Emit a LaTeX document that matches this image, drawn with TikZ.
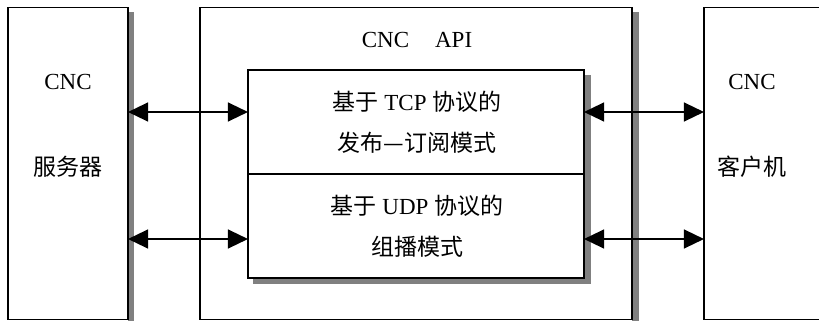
\documentclass[tikz,border=0pt]{standalone}
\usepackage{fontspec}
\setmainfont{Liberation Serif}
\newfontfamily\cjk{Noto Sans CJK SC}
\usetikzlibrary{arrows.meta}
\tikzset{
  box/.style={draw=black, line width=1.3pt, fill=white, inner sep=0pt},
  shade/.style={fill=black!50, draw=none},
  lbl/.style={font=\fontsize{23}{27}\selectfont, inner sep=0pt, anchor=center},
  two/.style={font=\fontsize{23}{41}\selectfont, align=center, inner sep=0pt},
  arr/.style={line width=1.3pt, {Triangle[length=20pt,width=19pt]}-{Triangle[length=20pt,width=19pt]}, shorten <=-0.6pt, shorten >=-0.6pt}
}
\begin{document}
\begin{tikzpicture}[x=1pt,y=-1pt]
\useasboundingbox (0,0) rectangle (819,321);
\clip (0,0) rectangle (819,321);
\fill[white] (0,0) rectangle (819,321);
% shadows
\fill[shade] (128,12.5) rectangle (134,330);
\fill[shade] (632,12.5) rectangle (638.5,330);
% left box
\node[box, minimum width=120pt, minimum height=312pt] (srv) at (68,163.75) {};
\node[lbl] (srvA) at (68,82) {CNC};
\node[lbl] (srvB) at (68,167) {\cjk 服务器};
% middle box
\node[box, minimum width=432pt, minimum height=312pt] (api) at (416,163.75) {};
\node[lbl] (apiT) at (417,40) {CNC\hspace{26pt}API};
% inner box shadow
\fill[shade] (253,75) rectangle (590.5,283.5);
\node[box, minimum width=336pt, minimum height=104pt] (tcp) at (416,122) {};
\node[box, minimum width=336pt, minimum height=104pt] (udp) at (416,226) {};
\node[two] (tcpT) at (417,122) {{\cjk 基于} TCP {\cjk 协议的}\\{\cjk 发布—订阅模式}};
\node[two] (udpT) at (417,226) {{\cjk 基于} UDP {\cjk 协议的}\\{\cjk 组播模式}};
% right box
\node[box, minimum width=140pt, minimum height=312pt] (cli) at (774,163.75) {};
\node[lbl] (cliA) at (752,82) {CNC};
\node[lbl] (cliB) at (752,167) {\cjk 客户机};
% arrows
\coordinate (yA) at (0,112);
\coordinate (yB) at (0,239);
\draw[arr] (srv.east |- yA) -- (tcp.west |- yA);
\draw[arr] (srv.east |- yB) -- (udp.west |- yB);
\draw[arr] (tcp.east |- yA) -- (cli.west |- yA);
\draw[arr] (udp.east |- yB) -- (cli.west |- yB);
\end{tikzpicture}
\end{document}
